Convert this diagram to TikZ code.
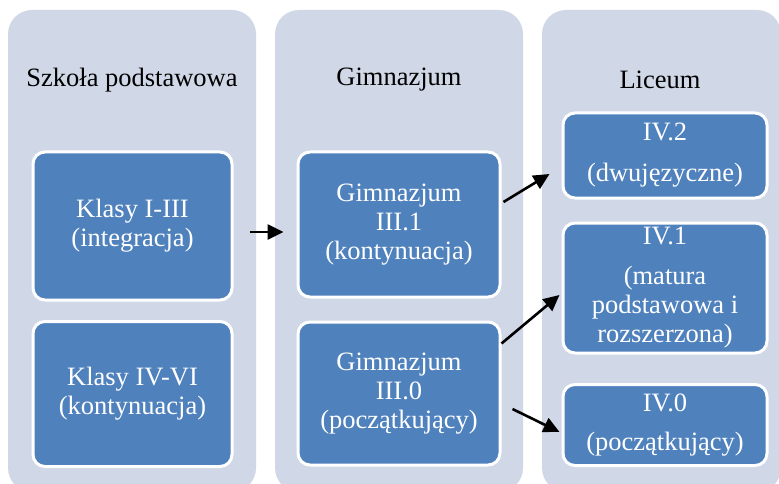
\documentclass[tikz,border=0pt]{standalone}
\usepackage{fontspec}
\setmainfont{Liberation Serif}
\usetikzlibrary{arrows.meta,calc}
\definecolor{colbg}{HTML}{D0D7E6}
\definecolor{boxblue}{HTML}{4F81BD}
\begin{document}
\begin{tikzpicture}[x=1pt,y=-1pt,
  colbox/.style={fill=colbg, rounded corners=24pt, inner sep=0pt, minimum width=#1},
  coltitle/.style={text=black, font=\fontsize{26.5}{29}\selectfont, inner sep=0pt},
  bluebox/.style={fill=boxblue, draw=white, line width=3pt, rounded corners=12pt,
    text=white, align=center, font=\fontsize{26.5}{29}\selectfont, inner sep=2pt},
  flow/.style={line width=2.6pt, -{Triangle[length=16pt,width=15pt]}}
]
\useasboundingbox (0,0) rectangle (779,484);
\fill[white] (0,0) rectangle (779,484);
% columns
\node[colbox=248, minimum height=482] (c1) at (132,251) {};
\node[colbox=248, minimum height=482] (c2) at (399,251) {};
\node[colbox=239, minimum height=482] (c3) at (661.5,251) {};
% titles
\node[coltitle] (t1) at (132,80) {Szkoła podstawowa};
\node[coltitle] (t2) at (399,80) {Gimnazjum};
\node[coltitle] (t3) at (660,80) {Liceum};
% boxes
\node[bluebox, minimum width=199, minimum height=148] (K1) at (132.5,226) {Klasy I-III\\(integracja)};
\node[bluebox, minimum width=199, minimum height=145] (K2) at (132.5,394) {Klasy IV-VI\\(kontynuacja)};
\node[bluebox, minimum width=202, minimum height=145] (G1) at (399,224.5) {Gimnazjum\\III.1\\(kontynuacja)};
\node[bluebox, minimum width=202, minimum height=143] (G2) at (399,393.5) {Gimnazjum\\III.0\\(początkujący)};
\node[bluebox, minimum width=204, minimum height=85] (L2) at (665,155.5) {IV.2\\[12pt](dwujęzyczne)};
\node[bluebox, minimum width=204, minimum height=130] (L1) at (665,288) {IV.1\\[11pt](matura\\podstawowa i\\rozszerzona)};
\node[bluebox, minimum width=204, minimum height=81] (L0) at (665,425) {IV.0\\[10pt](początkujący)};
% arrow end points
\coordinate (a1s) at ($(K1.east)+(16,6)$);
\coordinate (a1e) at ($(G1.west)+(-13,7.5)$);
\coordinate (a2s) at ($(G1.east)+(2,-22.5)$);
\coordinate (a2e) at ($(L2.west)+(-12,18.5)$);
\coordinate (a3s) at ($(G2.east)+(0,-50)$);
\coordinate (a3e) at ($(L1.west)+(-2,7)$);
\coordinate (a4s) at ($(G2.east)+(11,15.5)$);
\coordinate (a4e) at ($(L0.west)+(-2,7)$);
\draw[flow] (a1s) -- (a1e);
\draw[flow] (a2s) -- (a2e);
\draw[flow] (a3s) -- (a3e);
\draw[flow] (a4s) -- (a4e);
\end{tikzpicture}
\end{document}
